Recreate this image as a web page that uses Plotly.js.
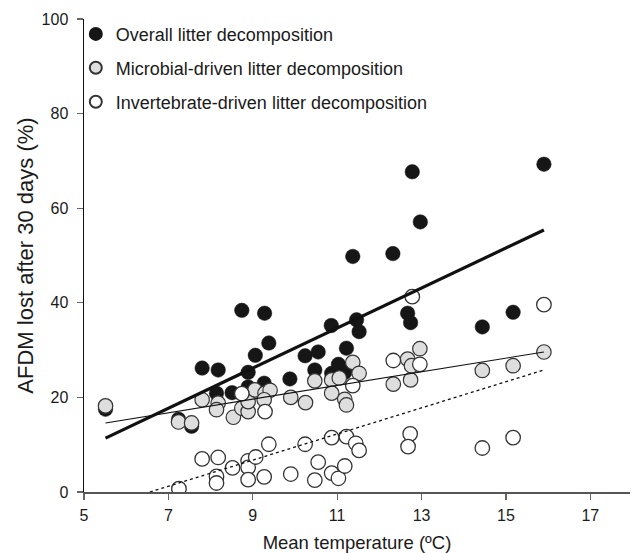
<!DOCTYPE html>
<html>
<head>
<meta charset="utf-8">
<script src="https://cdn.plot.ly/plotly-3.0.1.min.js"></script>
<style>html,body{margin:0;padding:0;background:#fff;}#chart{width:633px;height:553px;}</style>
</head>
<body>
<div id="chart"></div>
<script>
// Overall litter decomposition (black)
const overallX = [5.51, 7.24, 7.55, 7.80, 8.18, 8.14, 8.51, 8.74, 8.89, 8.89, 9.06, 9.27, 9.28, 9.38, 9.88, 10.24, 10.55, 10.47, 10.86, 10.87, 11.03, 11.18, 11.22, 11.37, 11.46, 11.52, 12.32, 12.67, 12.74, 12.78, 12.97, 14.44, 15.17, 15.90];
const overallY = [17.5, 15.4, 13.9, 26.2, 25.8, 20.9, 21.0, 38.4, 25.3, 22.2, 28.9, 23.0, 37.8, 31.5, 23.9, 28.8, 29.6, 25.8, 35.2, 25.1, 27.0, 25.3, 30.4, 49.8, 36.4, 33.9, 50.4, 37.8, 35.8, 67.7, 57.1, 34.9, 38.0, 69.3];

// Microbial-driven litter decomposition (grey)
const microbialX = [5.51, 7.24, 7.55, 7.80, 8.18, 8.14, 8.54, 8.74, 8.89, 8.89, 9.05, 9.29, 9.41, 9.27, 9.90, 10.25, 10.47, 10.87, 11.05, 10.87, 11.18, 11.22, 11.37, 11.52, 12.33, 12.74, 12.67, 12.76, 12.96, 14.44, 15.17, 15.90];
const microbialY = [18.2, 14.8, 14.6, 19.5, 18.8, 17.4, 15.8, 17.7, 17.0, 19.1, 21.6, 20.9, 21.5, 19.5, 20.0, 18.9, 23.5, 23.7, 24.1, 20.9, 19.6, 18.4, 27.4, 25.1, 22.8, 23.7, 28.1, 26.7, 30.3, 25.7, 26.7, 29.6];

// Invertebrate-driven litter decomposition (open)
const invertX = [7.25, 7.80, 8.18, 8.14, 8.14, 8.52, 8.74, 8.89, 8.89, 8.89, 9.07, 9.27, 9.29, 9.38, 9.90, 10.24, 10.55, 10.47, 10.87, 10.87, 11.03, 11.18, 11.22, 11.37, 11.44, 11.52, 12.33, 12.73, 12.68, 12.78, 12.96, 14.44, 15.17, 15.90];
const invertY = [0.7, 7.0, 7.3, 3.3, 1.9, 5.1, 20.8, 6.6, 5.2, 2.6, 7.4, 3.2, 17.0, 10.1, 3.8, 10.1, 6.3, 2.5, 11.5, 4.0, 2.9, 5.5, 11.7, 22.5, 10.3, 8.8, 27.8, 12.3, 9.6, 41.3, 27.0, 9.3, 11.5, 39.6];

// Fitted regression lines (endpoints)
const fitOverallX = [5.51, 15.90];
const fitOverallY = [11.4, 55.4];
const fitMicrobialX = [5.51, 15.90];
const fitMicrobialY = [14.6, 29.6];
const fitInvertX = [6.56, 15.90];
const fitInvertY = [0.0, 25.8];

const seriesNames = ['Overall litter decomposition', 'Microbial-driven litter decomposition', 'Invertebrate-driven litter decomposition'];
const xTicks = [5, 7, 9, 11, 13, 15, 17];
const yTicks = [0, 20, 40, 60, 80, 100];

const FONT = 'Liberation Sans, Arial, Helvetica, sans-serif';

const traces = [
  {x: overallX, y: overallY, type: 'scatter', mode: 'markers', name: seriesNames[0], legendgroup: 'a',
   marker: {size: 14.5, color: '#161616', line: {color: '#161616', width: 0.5}}},
  {x: microbialX, y: microbialY, type: 'scatter', mode: 'markers', name: seriesNames[1], legendgroup: 'b',
   marker: {size: 14.5, color: '#dedede', line: {color: '#333333', width: 1.2}}},
  {x: invertX, y: invertY, type: 'scatter', mode: 'markers', name: seriesNames[2], legendgroup: 'c',
   marker: {size: 14.5, color: '#ffffff', line: {color: '#333333', width: 1.3}}},
  {x: fitOverallX, y: fitOverallY, type: 'scatter', mode: 'lines', showlegend: false,
   line: {color: '#111111', width: 3.2}},
  {x: fitMicrobialX, y: fitMicrobialY, type: 'scatter', mode: 'lines', showlegend: false,
   line: {color: '#111111', width: 1.1}},
  {x: fitInvertX, y: fitInvertY, type: 'scatter', mode: 'lines', showlegend: false,
   line: {color: '#111111', width: 1.3, dash: 'dot'}}
];

const layout = {
  width: 633, height: 553,
  margin: {l: 84, r: 3, t: 19, b: 61},
  paper_bgcolor: '#ffffff', plot_bgcolor: '#ffffff',
  font: {family: FONT, size: 16, color: '#1a1a1a'},
  showlegend: true,
  legend: {x: -0.015, y: 1.007, xanchor: 'left', yanchor: 'top', bgcolor: 'rgba(0,0,0,0)',
           font: {family: FONT, size: 18, color: '#1a1a1a'}, itemsizing: 'constant',
           traceorder: 'grouped', tracegroupgap: 7.5},
  xaxis: {
    range: [5, 17.94], tickvals: xTicks, ticktext: xTicks.map(String),
    showgrid: false, zeroline: false, showline: true, linecolor: '#555555', linewidth: 1.5,
    ticks: 'outside', ticklen: 6, tickwidth: 1.3, tickcolor: '#666666', ticklabelstandoff: 2,
    tickfont: {family: FONT, size: 16, color: '#1a1a1a'},
    title: {text: 'Mean temperature (ºC)', font: {family: FONT, size: 18.5, color: '#1a1a1a'}, standoff: 13}
  },
  yaxis: {
    range: [0, 100], tickvals: yTicks, ticktext: yTicks.map(String),
    showgrid: false, zeroline: false, showline: true, linecolor: '#111111', linewidth: 1.5,
    ticks: 'outside', ticklen: 6, tickwidth: 1.3, tickcolor: '#666666', ticklabelstandoff: 5,
    tickfont: {family: FONT, size: 16, color: '#1a1a1a'},
    title: {text: 'AFDM lost after 30 days (%)', font: {family: FONT, size: 22, color: '#1a1a1a'}, standoff: 2}
  }
};

Plotly.newPlot('chart', traces, layout, {displayModeBar: false, staticPlot: true});
</script>
</body>
</html>
